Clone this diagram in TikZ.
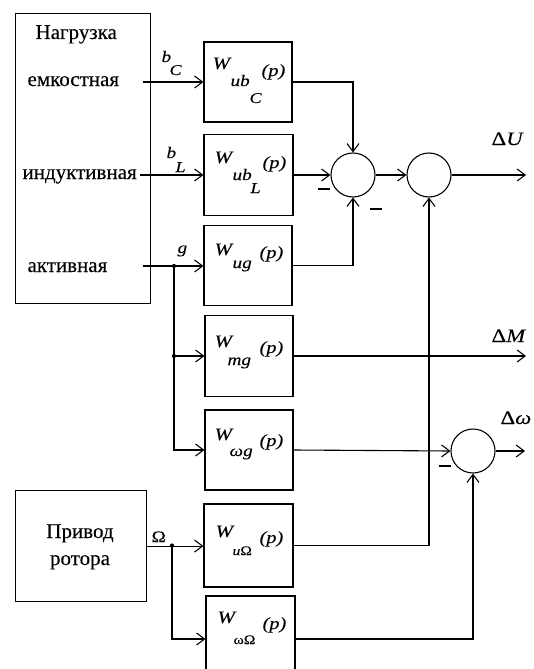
\documentclass[tikz,border=0pt]{standalone}
\usepackage{fontspec}
\setmainfont{Liberation Serif}
\newfontfamily\rufont[FakeBold=0.15]{Liberation Serif}
\newfontfamily\mfont[FakeStretch=1.2,FakeBold=0.15]{Liberation Serif}
\usetikzlibrary{arrows.meta}
\newcommand\fsz[1]{\fontsize{#1}{#1}\selectfont}

\begin{document}
\begin{tikzpicture}[x=1pt,y=-1pt,line width=1.1pt,
  tfbox/.style={draw,inner sep=0pt,minimum width=88pt,minimum height=80pt},
  sumj/.style={draw,circle,inner sep=0pt,minimum size=44pt},
  sig/.style={-{Straight Barb[length=8pt,width=12pt]}},
  txt/.style={anchor=base west,inner sep=0pt,font=\rufont\fsz{21}},
  txtc/.style={anchor=base,inner sep=0pt,font=\rufont\fsz{21}},
  lab/.style={anchor=base west,inner sep=0pt},
  wl/.style={lab,font=\mfont\itshape\fsz{17.5}},
  sl/.style={lab,font=\mfont\itshape\fsz{16}},
  ssl/.style={lab,font=\mfont\itshape\fsz{15}},
  gl/.style={lab,font=\mfont\fsz{13}},
  pl/.style={lab,font=\mfont\itshape\fsz{17}},
  outl/.style={lab,font=\mfont\fsz{19}},
  jdot/.style={circle,fill,inner sep=0pt,minimum size=4.2pt},
  minus/.style={inner sep=0pt}]
\useasboundingbox (0,0) rectangle (534,669);

% load block
\node[draw,inner sep=0pt,minimum width=135pt,minimum height=290pt,anchor=north west] (load) at (15,13) {};
\node[txt] (tN) at (35,39) {Нагрузка};
\node[txt] (tC) at (27,86) {емкостная};
\node[txt] (tL) at (22,179) {индуктивная};
\node[txt] (tG) at (27,272) {активная};
\coordinate (oC) at (143,82);
\coordinate (oL) at (140,175);
\coordinate (oG) at (143,266);

% rotor drive block
\node[draw,inner sep=0pt,minimum width=131pt,minimum height=111pt,anchor=north west] (drv) at (15,490) {};
\node[txtc] (tP) at (80,538) {Привод};
\node[txtc] (tR) at (80,565) {ротора};

% transfer function blocks
\node[tfbox] (B1) at (248,82) {};
\node[tfbox,minimum width=89pt,minimum height=81pt] (B2) at (248.5,175) {};
\node[tfbox] (B3) at (248,265.5) {};
\node[tfbox,minimum height=81pt] (B4) at (249,356) {};
\node[tfbox] (B5) at (249,450) {};
\node[tfbox,minimum width=89pt,minimum height=83pt] (B6) at (248.5,545.5) {};
\node[tfbox,minimum width=89pt,minimum height=86pt] (B7) at (250.5,639) {};

% block labels
\node[wl] (B1w) at (212,69) {W};
\node[sl] (B1s) at (230,86) {ub};
\node[ssl] (B1ss) at (249,103) {C};
\node[pl] (B1p) at (261,76) {(p)};

\node[wl] (B2w) at (214,163) {W};
\node[sl] (B2s) at (232,180) {ub};
\node[ssl] (B2ss) at (250,193) {L};
\node[pl] (B2p) at (262,168) {(p)};

\node[wl] (B3w) at (214,255) {W};
\node[sl] (B3s) at (232,268) {ug};
\node[pl] (B3p) at (259,258) {(p)};

\node[wl] (B4w) at (214,347) {W};
\node[sl] (B4s) at (227,365) {mg};
\node[pl] (B4p) at (259,353) {(p)};

\node[wl] (B5w) at (214,440) {W};
\node[sl] (B5s) at (229,456) {ωg};
\node[pl] (B5p) at (259,446) {(p)};

\node[wl] (B6w) at (215,537) {W};
\node[gl] (B6s) at (232,555) {\itshape u\upshape Ω};
\node[pl] (B6p) at (259,543) {(p)};

\node[wl] (B7w) at (217,623) {W};
\node[gl] (B7s) at (233,644) {ωΩ};
\node[pl] (B7p) at (262,629) {(p)};

% summing junctions
\node[sumj] (S1) at (353,175) {};
\node[sumj] (S2) at (429,175) {};
\node[sumj] (S3) at (473,451) {};

% signal labels
\node[sl] (lb1) at (161,62) {b};
\node[ssl] (lc1) at (169,75) {C};
\node[sl] (lb2) at (166,158) {b};
\node[ssl] (lc2) at (175,172) {L};
\node[sl] (lg) at (177,253) {g};
\node[lab,font=\mfont\fsz{16}] (lO) at (151,542) {Ω};
\node[outl] (lU) at (491,145) {Δ\itshape U};
\node[outl] (lM) at (491,342) {Δ\itshape M};
\node[outl] (lW) at (500,424) {Δ\itshape ω};

% signs at summing inputs
\node[minus] (m1) at (324,189) {\rule{12pt}{1.3pt}};
\node[minus] (m2) at (376,209) {\rule{12pt}{1.3pt}};
\node[minus] (m3) at (445,466) {\rule{12pt}{1.3pt}};

% branch points
\coordinate (jG) at (174,266);
\coordinate (jO) at (172,545.5);
\node[jdot] (dG1) at (jG) {};
\node[jdot] (dG2) at (174,356) {};
\node[jdot] (dO) at (jO) {};

% outputs
\coordinate (oU) at (526,175);
\coordinate (oM) at (526,356);
\coordinate (oW) at (525,451);

% connectors
\draw[sig] (oC) -- (oC -| B1.west);
\draw[sig] (oL) -- (oL -| B2.west);
\draw[sig] (oG) -- (oG -| B3.west);
\draw[sig] (jG) |- (B4.west);
\draw[sig] (jG) |- (B5.west);
\draw[sig] (drv.east) -- (drv.east -| B6.west);
\draw[sig] (jO) |- (B7.west);

\draw[sig] (B1.east) -| (S1.north);
\draw[sig] (B2.east) -- (S1.west);
\draw[sig] (B3.east) -| (S1.south);
\draw[sig] (S1.east) -- (S2.west);
\draw[sig] (S2.east) -- (oU);
\draw[sig] (B4.east) -- (oM);
\draw[sig] (B5.east) -- (S3.west);
\draw[sig] (B6.east) -| (S2.south);
\draw[sig] (B7.east) -| (S3.south);
\draw[sig] (S3.east) -- (oW);
\end{tikzpicture}
\end{document}
